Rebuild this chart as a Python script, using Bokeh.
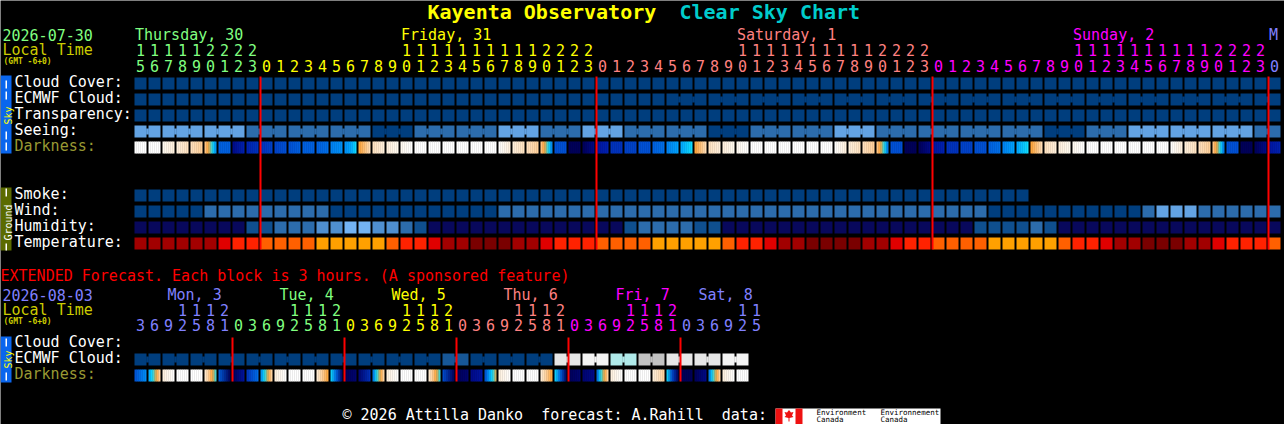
import math
from bokeh.plotting import figure
from bokeh.models import Range1d
from bokeh.core.properties import value
from bokeh.embed import file_html
from bokeh.resources import INLINE

# ---------------- data ----------------
title_name = "Kayenta Observatory"
title_chart = "Clear Sky Chart"
main_date = "2026-07-30"
ext_date = "2026-08-03"
local_time = "Local Time"
tz_label = "(GMT -6+0)"
ext_note = "EXTENDED Forecast. Each block is 3 hours. (A sponsored feature)"
footer_text = "\u00a9 2026 Attilla Danko\u00a0 forecast: A.Rahill\u00a0 data:"

main_days = ["Thursday, 30", "Friday, 31", "Saturday, 1", "Sunday, 2", "M"]
main_day_colors = ["#80ff80", "#ffff00", "#ff8080", "#ff00ff", "#8080ff"]
main_day_hours = [
    [15, 16, 17, 18, 19, 20, 21, 22, 23],
    [0, 1, 2, 3, 4, 5, 6, 7, 8, 9, 10, 11, 12, 13, 14, 15, 16, 17, 18, 19, 20, 21, 22, 23],
    [0, 1, 2, 3, 4, 5, 6, 7, 8, 9, 10, 11, 12, 13, 14, 15, 16, 17, 18, 19, 20, 21, 22, 23],
    [0, 1, 2, 3, 4, 5, 6, 7, 8, 9, 10, 11, 12, 13, 14, 15, 16, 17, 18, 19, 20, 21, 22, 23],
    [0],
]

ext_days = ["Mon, 3", "Tue, 4", "Wed, 5", "Thu, 6", "Fri, 7", "Sat, 8"]
ext_day_colors = ["#8080ff", "#80ff80", "#ffff00", "#ff8080", "#ff00ff", "#8080ff"]
ext_day_hours = [
    [3, 6, 9, 12, 15, 18, 21],
    [0, 3, 6, 9, 12, 15, 18, 21],
    [0, 3, 6, 9, 12, 15, 18, 21],
    [0, 3, 6, 9, 12, 15, 18, 21],
    [0, 3, 6, 9, 12, 15, 18, 21],
    [0, 3, 6, 9, 12, 15],
]

sky_labels = ["Cloud Cover:", "ECMWF Cloud:", "Transparency:", "Seeing:", "Darkness:"]
ground_labels = ["Smoke:", "Wind:", "Humidity:", "Temperature:"]
ext_labels = ["Cloud Cover:", "ECMWF Cloud:", "Darkness:"]

# cloud cover in percent (0 = clear)
cloud_cover = [0] * 82
ecmwf_cloud = [0] * 82
ecmwf_groups = [1] * 38 + [3] * 14 + [2]
transparency = [0] * 82  # 0 = transparent

# seeing (5 excellent, 4 good, 3 average) per 3-hour group
seeing_groups = [2] + [3] * 26 + [2]
seeing = [3, 3, 3, 4, 4, 4, 5, 4, 4, 3, 4, 3, 4, 4, 5, 4, 4, 3, 4, 4, 4, 4, 5, 4, 3, 3, 3, 4]

# darkness: colour stops per hourly block
darkness = [
    "W", "W", "C0 C1", "C1 C2", "C2 P", "P O Cy L3", "L5", "N1 L9", "L9 L8",
    "L8 L7", "L7 L6", "L6 L5", "L5", "L5 L4", "L3 L2", "L2 L1 Cy", "O C2", "C2 C1", "C1 C0", "C0 W",
    "W", "W", "W", "W", "W", "W", "W C1", "C1 C2", "C2 P", "P O Cy L4", "L6", "N3", "N3 N1",
    "L10 L9", "L8", "L7", "L6", "L5 L4", "L3 L1", "L1 Cy", "O C2", "C2 C1", "C1 C0", "C0 W",
    "W", "W", "W", "W", "W", "W", "W C1", "C1 C2", "C2 P", "P O Cy L5", "L6", "N3", "N3 N1",
    "L10 L9", "L8", "L7", "L6", "L5 L4", "L3 L1", "L1 Cy", "O C2", "C2 C1", "C1 C0", "C0 W",
    "W", "W", "W", "W", "W", "W", "W C1", "C1 C2", "C2 P", "P O Cy L5", "L6", "N3", "N3 N1",
    "L10 L9",
]

smoke = [0] * 64
# wind class: 0 = 0-5 mph, 1 = 6-11 mph, 2 = 12-16 mph
wind = ([0] * 5 + [1] * 9 + [0] * 12 + [1] * 35 + [0] * 11 + [1] + [2] * 3 + [1] * 6)
# humidity class: 0 low ... 4 high
humidity = ([0] * 8 + [1, 1, 2, 2, 2, 3, 3, 4, 4, 3, 3, 2, 1] + [0] * 14 +
            [1, 2, 2, 2, 2, 1, 1] + [0] * 18 + [1, 1, 1, 1, 2, 1] + [0] * 16)
# temperature class: 0 hottest ... 5 coolest
temperature = [1, 1, 1, 1, 1, 1, 2, 3, 3,
               4, 4, 4, 4, 5, 5, 5, 5, 5, 4, 3, 3, 2, 1, 1, 0, 0, 0, 1, 1, 2, 3, 3, 3,
               4, 4, 4, 4, 5, 5, 5, 5, 5, 4, 3, 3, 2, 1, 1, 0, 0, 0, 0, 1, 1, 2, 3, 3,
               4, 4, 4, 4, 5, 5, 5, 5, 5, 4, 3, 3, 2, 1, 1, 0, 0, 0, 1, 1, 2, 3, 3, 3,
               4]

# extended forecast (3-hour blocks)
ext_ecmwf_pairs = [0] * 11 + [10] + [0, 0, 0] + [90, 100, 70, 80, 90, 90, 100]
ext_darkness = [
    "L6 L2", "L1 Cy O C2", "C1 W", "W", "W", "C1 P O Cy", "L5 N3",
    "N3 L10", "L8 L4", "L3 Cy O C2", "C1 W", "W", "W", "C1 P O", "Cy L5 N3",
    "N3 N2", "N2 L8", "L5 Cy O C2", "C1 W", "W", "W", "C1 P O Cy", "L6 N3",
    "N3 N2", "N1 L10", "L7 L2 Cy O", "C1 W", "W", "W", "C1 P O", "Cy L5 N3",
    "N3 N2", "N2 N1", "L6 Cy O C2", "C1 W", "W", "W", "C1 C2 P", "Cy L7 N3",
    "N3", "N3 N1", "L5 Cy O C2", "C1 W", "W",
]

# ---------------- styles ----------------
CLOUD_COL = {0: "#003e7e", 10: "#175797", 70: "#b0eaea", 80: "#c2c2c2", 90: "#e6e6e6", 100: "#f4f4f4"}
SEEING_COL = {5: "#003e7e", 4: "#2c6cac", 3: "#63a3e3"}
WIND_COL = {0: "#003e7e", 1: "#2c6cac", 2: "#63a3e3"}
HUM_COL = {0: "#08085c", 1: "#0f4f8f", 2: "#2c6cac", 3: "#4f8fcf", 4: "#73b3f3"}
TEMP_COL = {0: "#7a0000", 1: "#a20000", 2: "#e00000", 3: "#ff2200", 4: "#ff6000", 5: "#ffa000"}
DK = {"W": "#ffffff", "C0": "#fffaf0", "C1": "#fff0dc", "C2": "#ffe2c0", "P": "#ffcf98",
      "O": "#ffa030", "Cy": "#10e0ff",
      "L1": "#00a4ff", "L2": "#0090f8", "L3": "#0080f0", "L4": "#0070e8", "L5": "#0060e0",
      "L6": "#0050d4", "L7": "#0042c8", "L8": "#0032bc", "L9": "#0022b0", "L10": "#0014a0",
      "N1": "#000a88", "N2": "#000470", "N3": "#000058"}

FONT = value("DejaVu Sans Mono")
X0, STEP, CW = 134, 14, 12
BASE_FIX = 0.34  # baseline correction, fraction of font size

p = figure(width=1284, height=424, output_backend="svg", toolbar_location=None, title=None,
           x_range=Range1d(0, 1284), y_range=Range1d(424, 0),
           x_axis_location=None, y_axis_location=None, min_border=0)
p.background_fill_color = "#000000"
p.border_fill_color = "#000000"
p.outline_line_color = None
p.grid.visible = False


def col(i):
    return X0 + STEP * i


def txt(xs, ys, texts, colors, size=15, align="left", style="normal"):
    p.text(x=xs, y=[v - BASE_FIX * size for v in ys], text=texts, text_color=colors,
           text_font=FONT, text_font_size="%gpx" % size,
           text_align=align, text_baseline="alphabetic", text_font_style=style)


def row(colors, ytop, groups=None):
    n = len(colors)
    L = [col(i) for i in range(n)]
    p.quad(left=L, right=[v + CW for v in L], top=[ytop] * n, bottom=[ytop + CW] * n,
           fill_color=colors, line_color=None)
    if groups:
        cl, cr, cc = [], [], []
        s = 0
        for g in groups:
            for j in range(g - 1):
                cl.append(col(s + j) + CW - 0.3)
                cr.append(col(s + j + 1) + 0.3)
                cc.append(colors[s + j])
            s += g
        if cl:
            p.quad(left=cl, right=cr, top=[ytop + 3] * len(cl), bottom=[ytop + 9] * len(cl),
                   fill_color=cc, line_color=None)


def h2r(h):
    return tuple(int(h[k:k + 2], 16) for k in (1, 3, 5))


def grad_row(codes, ytop, nstrip=6):
    L, R, C = [], [], []
    for i, code in enumerate(codes):
        stops = [h2r(DK[c]) for c in code.split()]
        for k in range(nstrip):
            t = (k + 0.5) / nstrip
            if len(stops) == 1:
                rgb = stops[0]
            else:
                pos = t * (len(stops) - 1)
                a = min(int(pos), len(stops) - 2)
                f = pos - a
                rgb = tuple(round(stops[a][m] * (1 - f) + stops[a + 1][m] * f) for m in range(3))
            w = CW / nstrip
            L.append(col(i) + k * w)
            R.append(col(i) + (k + 1) * w + (0.35 if k < nstrip - 1 else 0))
            C.append("#%02x%02x%02x" % rgb)
    n = len(L)
    p.quad(left=L, right=R, top=[ytop] * n, bottom=[ytop + CW] * n, fill_color=C, line_color=None)


# ---------------- title ----------------
txt([427], [18], [title_name], ["#ffff00"], size=20, style="bold")
txt([679], [18], [title_chart], ["#00cccc"], size=20, style="bold")

# ---------------- main header ----------------
txt([2], [40], [main_date], ["#80ff80"])
txt([2], [55], [local_time], ["#cccc00"])
txt([3], [64], [tz_label], ["#cccc00"], size=8, style="bold")

ux, ut, uc = [], [], []
tx, tt, tc = [], [], []
dlx, dlt, dlc = [], [], []
day_starts = []
idx = 0
for d, hours in enumerate(main_day_hours):
    if hours[0] == 0:
        day_starts.append(idx)
    lab_i = idx + hours.index(10) if 10 in hours else idx
    dlx.append(col(lab_i) + 0.5)
    dlt.append(main_days[d])
    dlc.append(main_day_colors[d])
    for h in hours:
        ux.append(col(idx) + 6)
        ut.append(str(h % 10))
        uc.append(main_day_colors[d])
        if h >= 10:
            tx.append(col(idx) + 6)
            tt.append(str(h // 10))
            tc.append(main_day_colors[d])
        idx += 1
txt(dlx, [40] * len(dlx), dlt, dlc)
txt(tx, [55] * len(tx), tt, tc, align="center")
txt(ux, [71] * len(ux), ut, uc, align="center")


# ---------------- side bars ----------------
def side_bar(y0, y1, fill, label, lcolor, ymid, dashes):
    p.quad(left=[0], right=[11], top=[y0], bottom=[y1], fill_color=fill, line_color=None)
    for (a, b) in dashes:
        p.quad(left=[5], right=[6.5], top=[a], bottom=[b], fill_color="#ffffff", line_color=None)
    p.text(x=[8], y=[ymid], text=[label], text_color=lcolor, text_font=FONT, text_font_size="10px",
           text_align="center", text_baseline="alphabetic", angle=math.pi / 2)


side_bar(75, 153, "#0a66ee", "Sky", "#ffff00", 115,
         [(80, 88), (91, 99), (131, 139), (142, 150)])
side_bar(187, 250, "#5b6b00", "Ground", "#ffffff", 222, [(188, 196), (243, 250)])
side_bar(336, 382, "#0a66ee", "Sky", "#ffff00", 359, [(338, 346), (372, 380)])

# ---------------- main rows ----------------
sky_tops = [77, 93, 109, 125, 141]
ground_tops = [189, 205, 221, 237]
txt([14] * 4, [t + 10 for t in sky_tops[:4]], sky_labels[:4], ["#ffffff"] * 4)
txt([14], [sky_tops[4] + 10], [sky_labels[4]], ["#999933"])
txt([14] * 4, [t + 10 for t in ground_tops], ground_labels, ["#ffffff"] * 4)

row([CLOUD_COL[v] for v in cloud_cover], sky_tops[0])
row([CLOUD_COL[v] for v in ecmwf_cloud], sky_tops[1], ecmwf_groups)
row([CLOUD_COL[v] for v in transparency], sky_tops[2])
see_cols = []
for g, v in zip(seeing_groups, seeing):
    see_cols += [SEEING_COL[v]] * g
row(see_cols, sky_tops[3], seeing_groups)
grad_row(darkness, sky_tops[4])

row([CLOUD_COL[v] for v in smoke], ground_tops[0])
row([WIND_COL[v] for v in wind], ground_tops[1])
row([HUM_COL[v] for v in humidity], ground_tops[2])
row([TEMP_COL[v] for v in temperature], ground_tops[3])

rl = [col(i) - 1 for i in day_starts]
p.quad(left=rl, right=[v + 2 for v in rl], top=[76] * len(rl), bottom=[249] * len(rl),
       fill_color="#ff0000", line_color=None)

# ---------------- extended ----------------
txt([0], [281], [ext_note], ["#ff0000"])
txt([2], [300], [ext_date], ["#8080ff"])
txt([2], [315], [local_time], ["#cccc00"])
txt([3], [324], [tz_label], ["#cccc00"], size=8, style="bold")

ux, ut, uc, tx, tt, tc = [], [], [], [], [], []
dlx, dlt, dlc = [], [], []
ext_starts = []
idx = 0
n_ext = len(ext_darkness)
for d, hours in enumerate(ext_day_hours):
    if hours[0] == 0:
        ext_starts.append(idx)
    i12 = idx + hours.index(12)
    lx = min(col(i12) - 9, col(n_ext) + 2 - 9 * len(ext_days[d]))
    dlx.append(lx)
    dlt.append(ext_days[d])
    dlc.append(ext_day_colors[d])
    for h in hours:
        ux.append(col(idx) + 6)
        ut.append(str(h % 10))
        uc.append(ext_day_colors[d])
        if h >= 10:
            tx.append(col(idx) + 6)
            tt.append(str(h // 10))
            tc.append(ext_day_colors[d])
        idx += 1
txt(dlx, [300] * len(dlx), dlt, dlc)
txt(tx, [315] * len(tx), tt, tc, align="center")
txt(ux, [330] * len(ux), ut, uc, align="center")

ext_tops = [337, 353, 369]
txt([14, 14], [347, 363], ext_labels[:2], ["#ffffff"] * 2)
txt([14], [379], [ext_labels[2]], ["#999933"])

ext_cols = []
for v in ext_ecmwf_pairs:
    ext_cols += [CLOUD_COL[v]] * 2
row(ext_cols, ext_tops[1], [2] * len(ext_ecmwf_pairs))
grad_row(ext_darkness, ext_tops[2])

rl = [col(i) - 1 for i in ext_starts]
p.quad(left=rl, right=[v + 2 for v in rl], top=[337] * len(rl), bottom=[381] * len(rl),
       fill_color="#ff0000", line_color=None)

# ---------------- footer ----------------
txt([342], [420], [footer_text], ["#ffffff"])
p.quad(left=[775], right=[940], top=[408], bottom=[424], fill_color="#ffffff", line_color=None)
p.quad(left=[775, 795], right=[782, 802], top=[408, 408], bottom=[424, 424],
       fill_color="#ee1111", line_color=None)
p.patch(x=[788.5, 790.5, 793, 791.5, 793, 789, 789, 788, 788, 784, 785.5, 784, 786.5],
        y=[409.5, 412, 411.5, 415, 416.5, 417.5, 421, 421, 417.5, 416.5, 415, 411.5, 412],
        fill_color="#ee1111", line_color=None)
txt([816, 880], [415, 415], ["Environment", "Environnement"], ["#000000"] * 2, size=7.5)
txt([816, 880], [422, 422], ["Canada", "Canada"], ["#000000"] * 2, size=7.5)

open("out.html", "w").write(file_html(p, INLINE))
